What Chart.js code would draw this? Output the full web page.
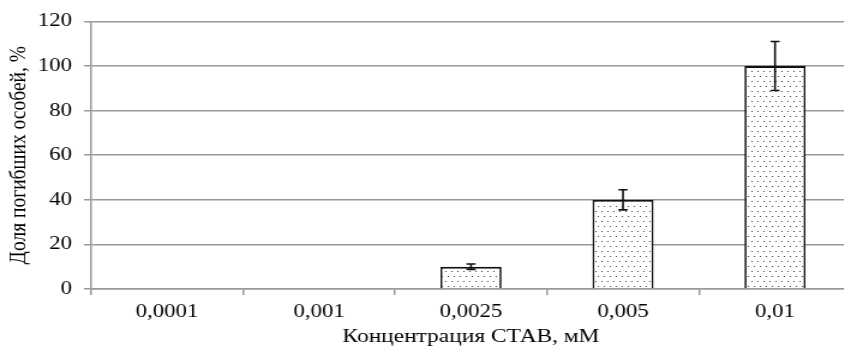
<!DOCTYPE html>
<html><head><meta charset="utf-8">
<script src="https://cdn.jsdelivr.net/npm/chart.js@4/dist/chart.umd.min.js"></script>
<style>html,body{margin:0;padding:0;background:#fff;overflow:hidden}#wrap{width:844px;height:349px;overflow:hidden}</style>
</head><body><div id="wrap"><canvas id="c" width="709" height="349" style="width:851px;height:349px"></canvas></div>
<script>
const categories = ['0,0001', '0,001', '0,0025', '0,005', '0,01'];
const values = [0, 0, 10, 40, 100];
const errors = [0, 0, 1.2, 4.5, 11];
const yTicks = [0, 20, 40, 60, 80, 100, 120];

function makePattern() {
  const p = document.createElement('canvas');
  p.width = 10; p.height = 10;
  const g = p.getContext('2d');
  g.fillStyle = '#fff'; g.fillRect(0, 0, 10, 10);
  g.fillStyle = '#444';
  g.fillRect(1, 1, 1, 1);
  g.fillRect(6, 1, 1, 1);
  g.fillRect(3, 6, 1, 1);
  g.fillRect(8, 6, 1, 1);
  return g.createPattern(p, 'repeat');
}

const errorPlugin = {
  id: 'errbars',
  afterDatasetsDraw(chart) {
    const ctx = chart.ctx, x = chart.scales.x, y = chart.scales.y;
    ctx.save();
    ctx.strokeStyle = '#111'; ctx.lineWidth = 1.6;
    values.forEach((v, i) => {
      const e = errors[i];
      if (!e) return;
      const px = x.getPixelForValue(i);
      const y1 = y.getPixelForValue(v + e), y2 = y.getPixelForValue(v - e);
      ctx.beginPath();
      ctx.moveTo(px, y1); ctx.lineTo(px, y2);
      ctx.moveTo(px - 3.8, y1); ctx.lineTo(px + 3.8, y1);
      ctx.moveTo(px - 3.8, y2); ctx.lineTo(px + 3.8, y2);
      ctx.stroke();
    });
    ctx.restore();
  }
};

const tickFont = { family: '"Liberation Serif", "DejaVu Serif", serif', size: 19 };
const titleFont = { family: '"Liberation Serif", "DejaVu Serif", serif', size: 19.5 };

new Chart(document.getElementById('c'), {
  type: 'bar',
  data: {
    labels: categories,
    datasets: [{
      data: values,
      backgroundColor: makePattern(),
      borderColor: '#111',
      borderWidth: { top: 2, left: 1.7, right: 1.7, bottom: 0 },
      borderSkipped: 'bottom',
      categoryPercentage: 1,
      barPercentage: 0.402
    }]
  },
  plugins: [errorPlugin],
  options: {
    responsive: false,
    animation: false,
    layout: { padding: { top: 18.5, right: 0, left: 0, bottom: 0 } },
    plugins: { legend: { display: false }, tooltip: { enabled: false } },
    scales: {
      x: {
        afterFit: s => { s.height = 60; },
        grid: { offset: true, drawOnChartArea: false, color: '#999', lineWidth: 1.5, tickLength: 6 },
        border: { color: '#999', width: 1.5 },
        ticks: { color: '#000', font: tickFont, padding: 6 },
        title: { display: true, text: 'Концентрация СТАВ, мМ', color: '#000', font: titleFont, padding: { top: 0, bottom: 0 } }
      },
      y: {
        min: 0, max: 120,
        afterFit: s => { s.width = 75.8; },
        afterBuildTicks: s => { s.ticks = yTicks.map(v => ({ value: v })); },
        grid: { color: '#999', lineWidth: 1.5, tickLength: 5.8 },
        border: { color: '#999', width: 1.5 },
        ticks: { color: '#000', font: tickFont, padding: 10 },
        title: { display: true, text: 'Доля погибших особей, %', color: '#000', font: titleFont, padding: { top: 4, bottom: 0 } }
      }
    }
  }
});
</script></body></html>
